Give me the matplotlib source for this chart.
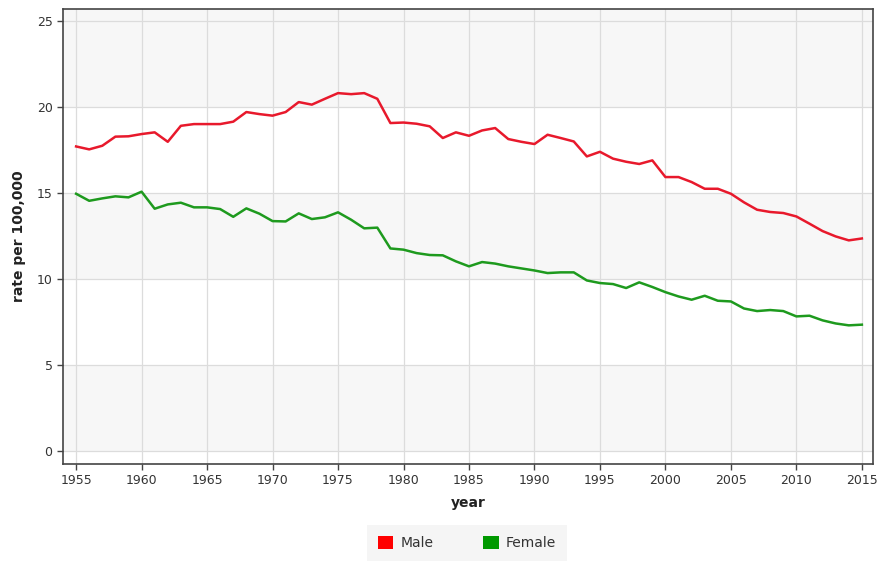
import matplotlib
matplotlib.use("Agg")
import matplotlib.pyplot as plt
from matplotlib.patches import Patch

years = list(range(1955, 2016))
male = [17.71, 17.54, 17.75, 18.28, 18.30, 18.43, 18.53, 17.98, 18.91, 19.01,
        19.01, 19.01, 19.15, 19.71, 19.59, 19.50, 19.71, 20.29, 20.14, 20.48,
        20.81, 20.75, 20.81, 20.48, 19.07, 19.10, 19.03, 18.88, 18.20, 18.53,
        18.33, 18.64, 18.78, 18.14, 17.98, 17.85, 18.39, 18.20, 18.00, 17.13,
        17.40, 17.00, 16.82, 16.69, 16.90, 15.93, 15.93, 15.64, 15.25, 15.25,
        14.96, 14.46, 14.03, 13.90, 13.84, 13.64, 13.22, 12.79, 12.48, 12.25,
        12.36]
female = [14.96, 14.55, 14.69, 14.81, 14.75, 15.08, 14.09, 14.34, 14.44, 14.17,
          14.17, 14.07, 13.62, 14.11, 13.80, 13.37, 13.35, 13.82, 13.49, 13.59,
          13.88, 13.45, 12.95, 12.99, 11.78, 11.71, 11.51, 11.40, 11.38, 11.03,
          10.74, 10.99, 10.90, 10.74, 10.62, 10.50, 10.35, 10.39, 10.39, 9.92,
          9.77, 9.71, 9.48, 9.81, 9.54, 9.24, 8.99, 8.80, 9.03, 8.74,
          8.70, 8.29, 8.14, 8.20, 8.14, 7.83, 7.87, 7.60, 7.42, 7.31,
          7.35]
series_names = ["Male", "Female"]
line_colors = ["#e8192c", "#1e9a1e"]
legend_colors = ["#ff0000", "#009900"]
xticks = list(range(1955, 2016, 5))
yticks = [0, 5, 10, 15, 20, 25]

fig = plt.figure(figsize=(8.8, 5.63), dpi=100)
ax = fig.add_axes([63/880, 99/563, 810/880, 455/563])

ax.set_xlim(1954.0, 2015.85)
ax.set_ylim(-0.75, 25.7)

# alternating background bands
band_color = "#f7f7f7"
ax.axhspan(20, 25.7, color=band_color, zorder=0, lw=0)
ax.axhspan(10, 15, color=band_color, zorder=0, lw=0)
ax.axhspan(0, 5, color=band_color, zorder=0, lw=0)

ax.set_xticks(xticks)
ax.set_yticks(yticks)
ax.grid(True, color="#dcdcdc", lw=0.9, zorder=1)
ax.set_axisbelow(True)

ax.plot(years, male, color=line_colors[0], lw=1.8, zorder=3)
ax.plot(years, female, color=line_colors[1], lw=1.8, zorder=3)

for s in ax.spines.values():
    s.set_color("#444444")
    s.set_linewidth(1.2)
ax.tick_params(axis="both", direction="out", length=4, width=1, color="#444444",
               labelsize=9, labelcolor="#333333")

ax.set_xlabel("year", fontsize=10, fontweight="bold", color="#222222", labelpad=6)
ax.set_ylabel("rate per 100,000", fontsize=10, fontweight="bold", color="#222222", labelpad=8)

handles = [Patch(facecolor=c, edgecolor="none") for c in legend_colors]
leg = fig.legend(handles, series_names, loc="center", bbox_to_anchor=(467/880, 20/563),
                 ncol=2, frameon=True, fontsize=10, handlelength=1.1, handleheight=1.1,
                 columnspacing=3.6, handletextpad=0.5, borderpad=0.8, borderaxespad=0,
                 fancybox=False)
leg.get_frame().set_facecolor("#f3f3f3")
leg.get_frame().set_edgecolor("none")
for t in leg.get_texts():
    t.set_color("#333333")

fig.savefig("out.png", dpi=100)
